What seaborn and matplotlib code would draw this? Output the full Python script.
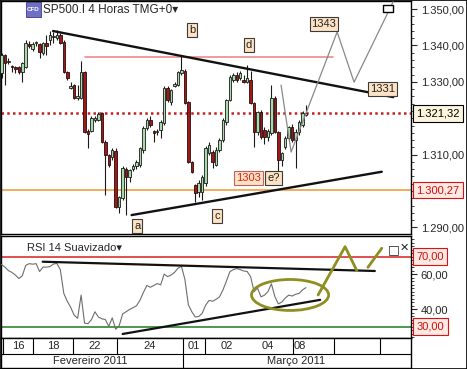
import numpy as np
import pandas as pd
import matplotlib
matplotlib.use("Agg")
import matplotlib.pyplot as plt
import matplotlib.transforms as mtrans
from matplotlib.patches import Ellipse, Rectangle
from matplotlib.ticker import FixedLocator, FuncFormatter
import seaborn as sns

# ---------------- data (4h candles, SP500 CFD) ----------------
opens = [1332.4, 1337.4, 1335.5, 1334.2, 1334.1, 1334.0, 1332.7, 1334.1, 1340.5, 1338.9,
         1340.6, 1340.4, 1338.0, 1340.6, 1341.4, 1342.2, 1342.1, 1342.8, 1341.0, 1332.7,
         1328.3, 1329.1, 1325.6, 1325.5, 1332.7, 1316.5, 1316.5, 1319.5, 1319.5, 1321.4,
         1313.5, 1309.9, 1309.3, 1311.0, 1295.6, 1298.1, 1306.0, 1303.8, 1306.0, 1307.0,
         1307.2, 1311.3, 1317.3, 1319.5, 1316.5, 1316.2, 1316.8, 1318.7, 1328.3, 1324.5,
         1328.8, 1329.1, 1332.4, 1333.0, 1324.5, 1308.0, 1301.6, 1299.7, 1299.7, 1302.2,
         1310.4, 1310.7, 1307.2, 1311.3, 1314.0, 1318.9, 1325.0, 1330.5, 1331.9, 1331.0,
         1330.5, 1330.0, 1330.5, 1324.2, 1316.2, 1321.7, 1316.8, 1314.9, 1315.9, 1325.5,
         1316.2, 1308.5, 1312.1, 1314.6, 1317.6, 1314.0, 1316.2, 1318.1, 1321.0]
highs = [1338.0, 1337.7, 1336.5, 1334.6, 1334.4, 1334.4, 1335.4, 1341.5, 1341.3, 1341.0,
         1341.2, 1340.8, 1341.0, 1342.9, 1344.0, 1343.6, 1344.2, 1343.5, 1341.4, 1333.0,
         1330.0, 1329.5, 1329.1, 1335.7, 1333.0, 1317.0, 1320.6, 1320.6, 1321.7, 1321.7,
         1314.0, 1310.2, 1311.8, 1311.8, 1298.6, 1306.8, 1306.5, 1306.0, 1307.5, 1308.5,
         1312.0, 1317.9, 1320.0, 1320.5, 1316.8, 1317.0, 1319.5, 1328.8, 1328.9, 1328.0,
         1330.0, 1333.0, 1337.1, 1333.5, 1324.8, 1308.3, 1302.0, 1303.0, 1304.5, 1312.5,
         1313.5, 1311.3, 1312.0, 1314.5, 1320.0, 1325.3, 1332.0, 1332.5, 1332.6, 1333.0,
         1332.0, 1334.6, 1333.0, 1324.5, 1322.0, 1322.2, 1317.5, 1317.0, 1329.1, 1326.0,
         1316.6, 1310.8, 1315.0, 1318.0, 1318.5, 1317.0, 1319.5, 1322.0, 1323.5]
lows = [1331.0, 1329.1, 1334.9, 1332.7, 1332.4, 1332.1, 1330.0, 1333.8, 1339.3, 1338.4,
        1339.9, 1336.5, 1337.5, 1337.4, 1340.0, 1340.7, 1341.5, 1340.5, 1332.4, 1330.6,
        1327.9, 1325.2, 1325.0, 1325.2, 1315.9, 1311.8, 1316.2, 1319.0, 1319.2, 1313.2,
        1298.9, 1306.5, 1308.5, 1295.3, 1294.0, 1297.5, 1293.4, 1302.5, 1305.5, 1306.0,
        1306.5, 1310.5, 1316.8, 1317.5, 1313.5, 1315.5, 1314.6, 1318.2, 1324.5, 1323.7,
        1328.5, 1328.8, 1332.0, 1323.9, 1307.7, 1304.9, 1297.0, 1298.5, 1297.5, 1301.5,
        1310.0, 1306.3, 1306.8, 1310.8, 1313.5, 1318.2, 1324.6, 1330.0, 1330.0, 1330.5,
        1329.7, 1329.6, 1324.0, 1312.1, 1315.5, 1314.4, 1313.0, 1313.8, 1315.5, 1315.9,
        1303.6, 1307.0, 1311.5, 1314.0, 1313.5, 1306.3, 1315.5, 1317.5, 1320.5]
closes = [1337.4, 1335.2, 1335.8, 1334.0, 1333.4, 1332.8, 1335.2, 1340.7, 1339.8, 1340.4,
          1340.8, 1338.2, 1340.6, 1339.9, 1342.9, 1342.6, 1342.8, 1340.7, 1332.7, 1331.0,
          1328.9, 1325.5, 1326.1, 1332.7, 1316.2, 1315.7, 1320.1, 1320.1, 1321.1, 1313.5,
          1309.9, 1307.1, 1311.3, 1295.6, 1298.4, 1306.3, 1303.8, 1305.8, 1306.8, 1308.0,
          1311.8, 1317.3, 1319.5, 1318.1, 1316.0, 1316.6, 1319.0, 1328.3, 1325.0, 1327.7,
          1329.5, 1332.7, 1333.2, 1324.2, 1308.0, 1305.2, 1299.5, 1302.2, 1303.8, 1311.8,
          1312.7, 1308.0, 1311.3, 1314.0, 1319.5, 1325.0, 1331.3, 1331.9, 1330.5, 1332.4,
          1330.0, 1331.0, 1324.2, 1316.2, 1321.7, 1314.9, 1314.9, 1316.6, 1325.5, 1316.2,
          1308.5, 1310.4, 1314.6, 1317.6, 1314.0, 1316.2, 1319.0, 1321.4, 1321.3]
rsi_values = [65.5, 64.0, 62.0, 61.0, 59.5, 57.5, 59.0, 65.0, 66.0, 65.7,
              66.0, 61.5, 64.0, 64.0, 64.3, 65.8, 66.1, 62.5, 49.0, 44.5,
              41.0, 36.5, 34.8, 48.0, 32.0, 31.7, 34.0, 38.5, 35.5, 34.5,
              34.0, 30.2, 35.0, 28.5, 30.5, 37.2, 38.5, 39.8, 40.8, 41.9,
              45.0, 49.5, 53.5, 52.5, 53.5, 54.6, 53.9, 60.0, 58.6, 59.5,
              61.0, 63.4, 64.5, 57.0, 42.5, 38.5, 35.5, 35.8, 37.6, 42.3,
              45.0, 44.5, 45.6, 47.0, 51.0, 56.0, 61.4, 62.6, 63.2, 62.6,
              61.8, 61.5, 58.5, 50.0, 52.0, 47.0, 48.0, 50.0, 54.5, 47.2,
              43.0, 44.0, 46.3, 48.0, 47.5, 48.5, 49.0, 51.0, 52.3]

last_price = 1321.32
support_level = 1300.27
resistance_level = 1336.9
resistance_x = [24.1, 95.8]
upper_trend_x = [14.9, 113.2]
upper_trend_y = [1343.95, 1325.8]
lower_trend_x = [37.6, 109.9]
lower_trend_y = [1293.4, 1305.3]
projection_x = [80.8, 83.7, 97.0, 101.9, 113.2]
projection_y = [1329.1, 1310.7, 1343.7, 1329.9, 1352.0]
wave_labels = ["b", "d", "1343", "1331", "a", "c", "e?"]
wave_x = [55.1, 71.5, 93.2, 110.0, 39.2, 62.3, 78.6]
wave_y = [1344.2, 1340.1, 1345.9, 1328.0, 1290.4, 1293.1, 1303.6]
target_label = "1303"
target_x, target_y = 71.4, 1303.6

rsi_upper_x = [11.9, 107.9]
rsi_upper_y = [67.1, 61.8]
rsi_lower_x = [35.0, 92.1]
rsi_lower_y = [25.8, 45.3]
rsi_zig1_x = [91.5, 99.3, 102.7]
rsi_zig1_y = [48.1, 75.7, 62.0]
rsi_zig2_x = [105.9, 109.9]
rsi_zig2_y = [63.9, 74.8]
ellipse_center = (83.4, 48.1)
ellipse_size = (22.3, 17.7)

day_labels = ["16", "18", "22", "24", "01", "02", "04", "08"]
day_label_x = [4.8, 14.9, 27.0, 42.9, 55.6, 65.2, 77.0, 86.3]
day_sep_x = [0.5, 9.2, 20.8, 33.3, 52.5, 58.8, 84.2, 96.2, 109.4]
month_labels = ["Fevereiro 2011", "Março 2011"]
month_label_x = [25.6, 85.1]
month_sep_x = [52.5]

# ---------------- style ----------------
sns.set_style("white")
plt.rcParams['font.family'] = ['Liberation Sans', 'DejaVu Sans']
plt.rcParams['font.size'] = 8

W, H = 467, 369
fig = plt.figure(figsize=(W / 100, H / 100), dpi=100)


def fx(px):
    return px / W


def fy(py):
    return 1 - py / H


XLIM = (-0.15, 118.35)
ax = fig.add_axes([fx(1), fy(234), fx(411) - fx(1), fy(1) - fy(234)])
ax_r = fig.add_axes([fx(1), fy(338), fx(411) - fx(1), fy(236) - fy(338)])
ax_d = fig.add_axes([fx(1), fy(368), fx(411) - fx(1), fy(338) - fy(368)])


def fmt(v, pos=None):
    s = f"{v:,.2f}"
    return s.replace(",", "X").replace(".", ",").replace("X", ".")


for a in (ax, ax_r, ax_d):
    for sp in a.spines.values():
        sp.set_color("black")
        sp.set_linewidth(1.0)
    a.set_xlim(*XLIM)
    a.set_xticks([])

# ---------------- main candlestick panel ----------------
o = np.array(opens); hi = np.array(highs); lo = np.array(lows); c = np.array(closes)
idx = np.arange(len(c))
up = c >= o
body_bottom = np.minimum(o, c)
body_h = np.maximum(np.abs(c - o), 0.35)
ax.vlines(idx, lo, hi, color="#1a1a1a", lw=0.8, zorder=3)
ax.bar(idx[up], body_h[up], bottom=body_bottom[up], width=0.72, color="#a9dba9",
       edgecolor="#1a1a1a", lw=0.6, zorder=4)
ax.bar(idx[~up], body_h[~up], bottom=body_bottom[~up], width=0.72, color="#9c1a1a",
       edgecolor="#2a0a0a", lw=0.6, zorder=4)

ax.axhline(last_price, color="#c42020", lw=1.8, ls=(0, (1, 1.3)), zorder=2)
ax.axhline(support_level, color="#f0a040", lw=1.2, zorder=2)
ax.plot(resistance_x, [resistance_level] * 2, color="#f08a8a", lw=1.2, zorder=2)
ax.plot(upper_trend_x, upper_trend_y, color="#111111", lw=1.7, zorder=5)
ax.plot(lower_trend_x, lower_trend_y, color="#111111", lw=1.7, zorder=5)
ax.plot(projection_x, projection_y, color="#888888", lw=0.9, zorder=5)

box_style = dict(boxstyle="square,pad=0.18", fc="#fde3c3", ec="#3a3a3a", lw=0.8)
for lab, x, y in zip(wave_labels, wave_x, wave_y):
    ax.text(x, y, lab, ha="center", va="center", fontsize=8, color="#222222",
            bbox=box_style, zorder=7)
ax.text(target_x, target_y, target_label, ha="center", va="center", fontsize=8,
        color="#dd2222", bbox=dict(boxstyle="square,pad=0.18", fc="#fde3c3", ec="#c06060", lw=0.8),
        zorder=7)
ax.add_patch(Rectangle((110.3, 1349.2), 2.9, 1.9, fc="white", ec="black", lw=1.0, zorder=8))

ax.set_ylim(1288.2, 1352.2)
ax.yaxis.tick_right()
ax.yaxis.set_major_locator(FixedLocator([1290, 1310, 1330, 1340, 1350]))
ax.yaxis.set_minor_locator(FixedLocator(np.arange(1290, 1352, 2)))
ax.yaxis.set_major_formatter(FuncFormatter(fmt))
ax.tick_params(axis="y", which="major", direction="out", length=4, width=0.8, labelsize=8, pad=3,
               right=True, left=False)
ax.tick_params(axis="y", which="minor", direction="out", length=2, width=0.6, right=True, left=False)

trans = mtrans.blended_transform_factory(ax.transAxes, ax.transData)
ax.annotate(fmt(last_price), xy=(1, last_price), xycoords=trans, xytext=(4, 0),
            textcoords="offset points", ha="left", va="center", fontsize=8, color="black",
            bbox=dict(boxstyle="square,pad=0.3", fc="#fbf6dc", ec="black", lw=0.8),
            annotation_clip=False)
ax.annotate(fmt(support_level), xy=(1, support_level), xycoords=trans, xytext=(4, 0),
            textcoords="offset points", ha="left", va="center", fontsize=8, color="#cc1111",
            bbox=dict(boxstyle="square,pad=0.3", fc="#ffe9e2", ec="#dd1111", lw=0.8),
            annotation_clip=False)

# title
fig.patches.append(Rectangle((fx(26), fy(17)), 15 / W, 15 / H, transform=fig.transFigure,
                             fc="#6f6fc4", ec="#3b3b88", lw=0.6))
fig.text(fx(33.5), fy(9.5), "CFD", fontsize=4.5, color="white", ha="center", va="center",
         fontweight="bold")
fig.text(fx(43), fy(10), "SP500.I 4 Horas TMG+0▾", fontsize=8.5, ha="left", va="center")

# ---------------- RSI panel ----------------
rsi_df = pd.DataFrame({"idx": idx, "rsi": rsi_values})
sns.lineplot(data=rsi_df, x="idx", y="rsi", ax=ax_r, color="#6e6e6e", lw=0.8, zorder=3)
ax_r.axhline(70, color="#d42020", lw=1.1, zorder=2)
ax_r.axhline(30, color="#1e7a1e", lw=1.1, zorder=2)
ax_r.plot(rsi_upper_x, rsi_upper_y, color="#111111", lw=1.6, zorder=4)
ax_r.plot(rsi_lower_x, rsi_lower_y, color="#111111", lw=1.6, zorder=4)
ax_r.add_patch(Ellipse(ellipse_center, ellipse_size[0], ellipse_size[1], fill=False,
                       ec="#8e8e22", lw=2.0, zorder=5))
ax_r.plot(rsi_zig1_x, rsi_zig1_y, color="#8e8e22", lw=2.0, zorder=5)
ax_r.plot(rsi_zig2_x, rsi_zig2_y, color="#8e8e22", lw=2.0, zorder=5)
ax_r.set_ylim(23.5, 81.8)
ax_r.set_xlabel("")
ax_r.set_ylabel("")
ax_r.yaxis.tick_right()
ax_r.yaxis.set_major_locator(FixedLocator([40, 60]))
ax_r.yaxis.set_minor_locator(FixedLocator(np.arange(24, 82, 2)))
ax_r.yaxis.set_major_formatter(FuncFormatter(fmt))
ax_r.tick_params(axis="y", which="major", direction="out", length=4, width=0.8, labelsize=8, pad=3,
                 right=True, left=False)
ax_r.tick_params(axis="y", which="minor", direction="out", length=2, width=0.6, right=True, left=False)
trans_r = mtrans.blended_transform_factory(ax_r.transAxes, ax_r.transData)
for lvl in (70, 30):
    ax_r.annotate(fmt(lvl), xy=(1, lvl), xycoords=trans_r, xytext=(4, 0),
                  textcoords="offset points", ha="left", va="center", fontsize=8, color="#cc1111",
                  bbox=dict(boxstyle="square,pad=0.3", fc="#ffe9e2", ec="#dd1111", lw=0.8),
                  annotation_clip=False)
ax_r.text(0.063, 0.93, "RSI 14 Suavizado▾", transform=ax_r.transAxes, fontsize=8,
          ha="left", va="top")
ax_r.text(0.958, 0.93, "□", transform=ax_r.transAxes, fontsize=9, ha="center", va="top",
          family=["DejaVu Sans"])
ax_r.text(0.983, 0.93, "✕", transform=ax_r.transAxes, fontsize=8, ha="center", va="top",
          family=["DejaVu Sans"])

# ---------------- date axis ----------------
ax_d.set_ylim(0, 1)
ax_d.set_yticks([])
ax_d.axhline(0.48, color="black", lw=0.8)
ax_d.vlines(day_sep_x, 0.48, 1, color="black", lw=0.8)
ax_d.vlines(month_sep_x, 0, 0.48, color="black", lw=0.8)
for lab, x in zip(day_labels, day_label_x):
    ax_d.text(x, 0.74, lab, ha="center", va="center", fontsize=8)
for lab, x in zip(month_labels, month_label_x):
    ax_d.text(x, 0.24, lab, ha="center", va="center", fontsize=8)

fig.patches.append(Rectangle((0, 0), 1, 1, transform=fig.transFigure, fill=False,
                             ec="black", lw=1.2))

fig.savefig("out.png", dpi=100)
